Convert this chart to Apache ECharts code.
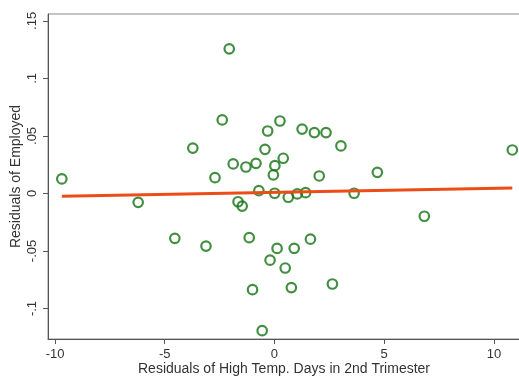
<!DOCTYPE html>
<html>
<head>
<meta charset="utf-8">
<script src="https://cdn.jsdelivr.net/npm/echarts@6/dist/echarts.min.js"></script>
<style>
  html, body { margin: 0; padding: 0; background: #fff; }
  #container { width: 519px; height: 376px; }
</style>
</head>
<body>
<div id="container"></div>
<script>
// residuals
const residTemp = [-9.69, -6.21, -4.54, -3.12, -3.72, -2.71, -2.38, -2.06, -1.88, -1.66,
    -1.47, -1.30, -1.15, -1.00, -0.84, -0.71, -0.56, -0.43, -0.31, -0.20,
    -0.05, 0.02, 0.01, 0.12, 0.25, 0.40, 0.49, 0.63, 0.77, 0.90,
    1.04, 1.42, 1.26, 1.64, 1.82, 2.04, 2.35, 2.64, 3.03, 3.63,
    4.69, 6.83, 10.84];
const residEmployed = [0.0126, -0.0077, -0.0390, -0.0457, 0.0395, 0.0137, 0.0639, 0.1257, 0.0257, -0.0072,
    -0.0110, 0.0230, -0.0384, -0.0836, 0.0262, 0.0024, -0.1193, 0.0384, 0.0543, -0.0580,
    0.0161, 0.0242, 0.0002, -0.0478, 0.0630, 0.0306, -0.0648, -0.0033, -0.0818, -0.0477,
    -0.0004, 0.0007, 0.0560, -0.0397, 0.0529, 0.0152, 0.0529, -0.0787, 0.0413, 0.0002,
    0.0184, -0.0198, 0.0378];

// fitted line end points
const fitX = [-9.69, 10.84];
const fitY = [-0.0024, 0.0048];

const xTicks = [-10, -5, 0, 5, 10];
const yTicks = [-0.1, -0.05, 0, 0.05, 0.1, 0.15];
const yTickLabels = { "-0.1": "-.1", "-0.05": "-.05", "0": "0", "0.05": ".05", "0.1": ".1", "0.15": ".15" };

let dom = document.getElementById("container");
let myChart = echarts.init(dom, null, { renderer: "canvas" });

let points = residTemp.map((x, i) => [x, residEmployed[i]]);
let fitLine = fitX.map((x, i) => [x, fitY[i]]);

const font = "Liberation Sans, Arial, sans-serif";

let option = {
    backgroundColor: "#fff",
    animation: false,
    grid: {
        left: 48, right: -1, top: 14, bottom: 37,
        show: true,
        borderColor: "#8a8a8a",
        borderWidth: 1,
        containLabel: false,
        outerBoundsMode: "none"
    },
    xAxis: {
        type: "value",
        min: -10.32,
        max: 11.19,
        name: "Residuals of High Temp. Days in 2nd Trimester",
        nameLocation: "middle",
        nameGap: 23,
        nameMoveOverlap: false,
        nameTextStyle: { fontFamily: font, fontSize: 14, color: "#333" },
        splitLine: { show: false },
        axisLine: { onZero: false, lineStyle: { color: "#555", width: 1 } },
        axisTick: { customValues: xTicks, length: 5, lineStyle: { color: "#555" } },
        axisLabel: {
            customValues: xTicks,
            fontFamily: font, fontSize: 13, color: "#333", margin: 9
        }
    },
    yAxis: {
        type: "value",
        min: -0.1265,
        max: 0.156,
        name: "Residuals of Employed",
        nameLocation: "middle",
        nameGap: 25,
        nameMoveOverlap: false,
        nameTextStyle: { fontFamily: font, fontSize: 14, color: "#333" },
        splitLine: { show: false },
        axisLine: { onZero: false, lineStyle: { color: "#555", width: 1 } },
        axisTick: { customValues: yTicks, length: 5, lineStyle: { color: "#555" } },
        axisLabel: {
            customValues: yTicks,
            rotate: 90,
            fontFamily: font, fontSize: 13, color: "#333", margin: 9,
            formatter: v => yTickLabels[String(Math.round(v * 100) / 100)] ?? String(v)
        }
    },
    series: [
        {
            type: "scatter",
            data: points,
            symbol: "circle",
            symbolSize: 9.5,
            itemStyle: { color: "rgba(0,0,0,0)", borderColor: "#137313", borderWidth: 2.2 },
            z: 2
        },
        {
            type: "line",
            data: fitLine,
            showSymbol: false,
            lineStyle: { color: "#ec4c18", width: 3 },
            z: 3
        }
    ]
};
myChart.setOption(option);
</script>
</body>
</html>
